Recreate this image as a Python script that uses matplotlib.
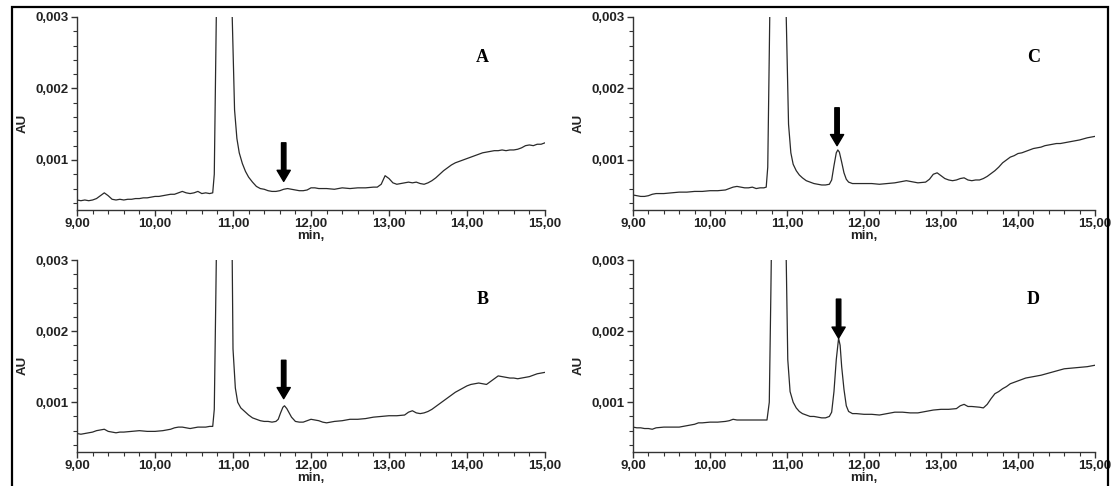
import matplotlib
matplotlib.use("Agg")
import matplotlib.pyplot as plt
from matplotlib.ticker import MultipleLocator, FuncFormatter
from matplotlib.patches import Rectangle

# ---------------- data (minutes, AU) ----------------
time_A = [9.00, 9.05, 9.10, 9.15, 9.20, 9.25, 9.30, 9.35, 9.40, 9.45, 9.50, 9.55, 9.60, 9.65, 9.70,
          9.75, 9.80, 9.85, 9.90, 9.95, 10.00, 10.05, 10.10, 10.15, 10.20, 10.25, 10.30, 10.35, 10.40,
          10.45, 10.50, 10.55, 10.60, 10.65, 10.70, 10.74, 10.76, 10.78, 10.80, 10.88, 10.97, 10.99,
          11.02, 11.05, 11.08, 11.12, 11.16, 11.20, 11.25, 11.30, 11.35, 11.40, 11.45, 11.50, 11.55,
          11.60, 11.65, 11.70, 11.75, 11.80, 11.85, 11.90, 11.95, 12.00, 12.05, 12.10, 12.20, 12.30,
          12.40, 12.50, 12.60, 12.70, 12.80, 12.85, 12.90, 12.95, 13.00, 13.05, 13.10, 13.15, 13.20,
          13.25, 13.30, 13.35, 13.40, 13.45, 13.50, 13.55, 13.60, 13.65, 13.70, 13.75, 13.80, 13.85,
          13.90, 13.95, 14.00, 14.05, 14.10, 14.15, 14.20, 14.25, 14.30, 14.35, 14.40, 14.45, 14.50,
          14.55, 14.60, 14.65, 14.70, 14.75, 14.80, 14.85, 14.90, 14.95, 15.00]
au_A = [0.00044, 0.00043, 0.00044, 0.00043, 0.00044, 0.00046, 0.00050, 0.00054, 0.00050, 0.00045,
        0.00044, 0.00045, 0.00044, 0.00045, 0.00045, 0.00046, 0.00046, 0.00047, 0.00047, 0.00048,
        0.00049, 0.00049, 0.00050, 0.00051, 0.00052, 0.00052, 0.00054, 0.00056, 0.00054, 0.00053,
        0.00054, 0.00056, 0.00053, 0.00054, 0.00053, 0.00054, 0.00080, 0.00250, 0.00420, 0.01500,
        0.00420, 0.00300, 0.00170, 0.00130, 0.00110, 0.00095, 0.00084, 0.00076, 0.00069, 0.00063,
        0.00060, 0.00059, 0.00057, 0.00056, 0.00056, 0.00057, 0.00059, 0.00060, 0.00059, 0.00058,
        0.00057, 0.00057, 0.00058, 0.00061, 0.00061, 0.00060, 0.00060, 0.00059, 0.00061, 0.00060,
        0.00061, 0.00061, 0.00062, 0.00062, 0.00066, 0.00078, 0.00074, 0.00068, 0.00066, 0.00067,
        0.00068, 0.00069, 0.00068, 0.00069, 0.00067, 0.00066, 0.00068, 0.00071, 0.00075, 0.00080,
        0.00085, 0.00089, 0.00093, 0.00096, 0.00098, 0.00100, 0.00102, 0.00104, 0.00106, 0.00108,
        0.00110, 0.00111, 0.00112, 0.00113, 0.00113, 0.00114, 0.00113, 0.00114, 0.00114, 0.00115,
        0.00117, 0.00120, 0.00121, 0.00120, 0.00122, 0.00122, 0.00124]

time_B = [9.00, 9.05, 9.10, 9.15, 9.20, 9.25, 9.30, 9.35, 9.40, 9.45, 9.50, 9.55, 9.60, 9.70, 9.80,
          9.90, 10.00, 10.10, 10.20, 10.25, 10.30, 10.35, 10.40, 10.45, 10.50, 10.55, 10.60, 10.65,
          10.70, 10.74, 10.76, 10.78, 10.80, 10.88, 10.97, 10.99, 11.00, 11.03, 11.06, 11.10, 11.15,
          11.20, 11.25, 11.30, 11.35, 11.40, 11.45, 11.50, 11.55, 11.58, 11.61, 11.64, 11.66, 11.69,
          11.72, 11.75, 11.80, 11.85, 11.90, 11.95, 12.00, 12.05, 12.10, 12.15, 12.20, 12.30, 12.40,
          12.50, 12.60, 12.70, 12.80, 12.90, 13.00, 13.10, 13.20, 13.25, 13.30, 13.35, 13.40, 13.45,
          13.50, 13.55, 13.60, 13.65, 13.70, 13.75, 13.80, 13.85, 13.90, 13.95, 14.00, 14.05, 14.10,
          14.15, 14.20, 14.25, 14.30, 14.35, 14.40, 14.45, 14.50, 14.55, 14.60, 14.65, 14.70, 14.75,
          14.80, 14.85, 14.90, 14.95, 15.00]
au_B = [0.00056, 0.00055, 0.00056, 0.00057, 0.00058, 0.00060, 0.00061, 0.00062, 0.00059, 0.00058,
        0.00057, 0.00058, 0.00058, 0.00059, 0.00060, 0.00059, 0.00059, 0.00060, 0.00062, 0.00064,
        0.00065, 0.00065, 0.00064, 0.00063, 0.00064, 0.00065, 0.00065, 0.00065, 0.00066, 0.00066,
        0.00090, 0.00250, 0.00420, 0.01500, 0.00420, 0.00300, 0.00175, 0.00120, 0.00100, 0.00092,
        0.00087, 0.00082, 0.00078, 0.00076, 0.00074, 0.00073, 0.00073, 0.00072, 0.00073, 0.00076,
        0.00085, 0.00093, 0.00095, 0.00091, 0.00085, 0.00079, 0.00073, 0.00072, 0.00072, 0.00074,
        0.00076, 0.00075, 0.00074, 0.00072, 0.00071, 0.00073, 0.00074, 0.00076, 0.00076, 0.00077,
        0.00079, 0.00080, 0.00081, 0.00081, 0.00082, 0.00086, 0.00088, 0.00085, 0.00084, 0.00085,
        0.00087, 0.00090, 0.00094, 0.00098, 0.00102, 0.00106, 0.00110, 0.00114, 0.00117, 0.00120,
        0.00123, 0.00125, 0.00126, 0.00127, 0.00126, 0.00125, 0.00129, 0.00133, 0.00137, 0.00136,
        0.00135, 0.00134, 0.00134, 0.00133, 0.00134, 0.00135, 0.00136, 0.00138, 0.00140, 0.00141,
        0.00142]

time_C = [9.00, 9.05, 9.10, 9.15, 9.20, 9.25, 9.30, 9.40, 9.50, 9.60, 9.70, 9.80, 9.90, 10.00, 10.10,
          10.20, 10.25, 10.30, 10.35, 10.40, 10.45, 10.50, 10.55, 10.60, 10.65, 10.70, 10.73, 10.75,
          10.77, 10.79, 10.88, 10.97, 10.99, 11.02, 11.05, 11.08, 11.12, 11.16, 11.20, 11.25, 11.30,
          11.35, 11.40, 11.45, 11.50, 11.55, 11.58, 11.61, 11.64, 11.66, 11.68, 11.71, 11.74, 11.77,
          11.80, 11.85, 11.90, 12.00, 12.10, 12.20, 12.30, 12.40, 12.50, 12.55, 12.60, 12.70, 12.80,
          12.85, 12.90, 12.95, 13.00, 13.05, 13.10, 13.15, 13.20, 13.25, 13.30, 13.35, 13.40, 13.45,
          13.50, 13.55, 13.60, 13.65, 13.70, 13.75, 13.80, 13.85, 13.90, 13.95, 14.00, 14.05, 14.10,
          14.15, 14.20, 14.25, 14.30, 14.35, 14.40, 14.45, 14.50, 14.55, 14.60, 14.70, 14.80, 14.90,
          15.00]
au_C = [0.00051, 0.00050, 0.00049, 0.00049, 0.00050, 0.00052, 0.00053, 0.00053, 0.00054, 0.00055,
        0.00055, 0.00056, 0.00056, 0.00057, 0.00057, 0.00058, 0.00060, 0.00062, 0.00063, 0.00062,
        0.00061, 0.00061, 0.00062, 0.00060, 0.00061, 0.00061, 0.00062, 0.00090, 0.00250, 0.00420,
        0.01500, 0.00420, 0.00300, 0.00150, 0.00110, 0.00094, 0.00085, 0.00079, 0.00075, 0.00071,
        0.00069, 0.00067, 0.00066, 0.00065, 0.00065, 0.00066, 0.00072, 0.00092, 0.00110, 0.00114,
        0.00111, 0.00097, 0.00082, 0.00073, 0.00069, 0.00067, 0.00067, 0.00067, 0.00067, 0.00066,
        0.00067, 0.00068, 0.00070, 0.00071, 0.00070, 0.00068, 0.00069, 0.00073, 0.00080, 0.00082,
        0.00078, 0.00074, 0.00072, 0.00071, 0.00072, 0.00074, 0.00075, 0.00072, 0.00071, 0.00072,
        0.00072, 0.00074, 0.00077, 0.00081, 0.00085, 0.00090, 0.00096, 0.00100, 0.00104, 0.00106,
        0.00109, 0.00110, 0.00112, 0.00114, 0.00116, 0.00117, 0.00118, 0.00120, 0.00121, 0.00122,
        0.00123, 0.00123, 0.00124, 0.00126, 0.00128, 0.00131, 0.00133]

time_D = [9.00, 9.05, 9.10, 9.15, 9.20, 9.25, 9.30, 9.40, 9.50, 9.60, 9.70, 9.75, 9.80, 9.85, 9.90,
          10.00, 10.10, 10.20, 10.25, 10.30, 10.35, 10.40, 10.50, 10.60, 10.70, 10.74, 10.77, 10.79,
          10.81, 10.90, 10.97, 10.99, 11.01, 11.04, 11.08, 11.12, 11.16, 11.20, 11.25, 11.30, 11.35,
          11.40, 11.45, 11.50, 11.55, 11.58, 11.61, 11.64, 11.67, 11.69, 11.71, 11.74, 11.77, 11.80,
          11.85, 11.90, 12.00, 12.10, 12.20, 12.30, 12.40, 12.50, 12.60, 12.70, 12.80, 12.90, 13.00,
          13.10, 13.20, 13.25, 13.30, 13.35, 13.40, 13.50, 13.55, 13.60, 13.65, 13.70, 13.75, 13.80,
          13.85, 13.90, 13.95, 14.00, 14.10, 14.20, 14.30, 14.40, 14.50, 14.60, 14.70, 14.80, 14.90,
          15.00]
au_D = [0.00065, 0.00064, 0.00064, 0.00063, 0.00063, 0.00062, 0.00064, 0.00065, 0.00065, 0.00065,
        0.00067, 0.00068, 0.00069, 0.00071, 0.00071, 0.00072, 0.00072, 0.00073, 0.00074, 0.00076,
        0.00075, 0.00075, 0.00075, 0.00075, 0.00075, 0.00075, 0.00100, 0.00250, 0.00420, 0.01500,
        0.00420, 0.00300, 0.00160, 0.00115, 0.00100, 0.00092, 0.00087, 0.00084, 0.00082, 0.00080,
        0.00080, 0.00079, 0.00078, 0.00078, 0.00080, 0.00086, 0.00115, 0.00160, 0.00190, 0.00180,
        0.00150, 0.00118, 0.00095, 0.00087, 0.00084, 0.00084, 0.00083, 0.00083, 0.00082, 0.00084,
        0.00086, 0.00086, 0.00085, 0.00085, 0.00087, 0.00089, 0.00090, 0.00090, 0.00091, 0.00095,
        0.00097, 0.00094, 0.00094, 0.00093, 0.00092, 0.00097, 0.00105, 0.00112, 0.00115, 0.00119,
        0.00122, 0.00126, 0.00128, 0.00130, 0.00134, 0.00136, 0.00138, 0.00141, 0.00144, 0.00147,
        0.00148, 0.00149, 0.00150, 0.00152]

panel_labels = ["A", "B", "C", "D"]
arrow_time = [11.65, 11.65, 11.65, 11.67]
arrow_tail = [0.00124, 0.00159, 0.00173, 0.00245]
arrow_tip = [0.00070, 0.00105, 0.00120, 0.00190]

x_lim = (9.0, 15.0)
y_lim = (0.0003, 0.003)

# ---------------- figure ----------------
W, H = 1115, 486
fig = plt.figure(figsize=(W / 100, H / 100), dpi=100)

TICK_FAMILY = ["Liberation Sans", "DejaVu Sans"]
TICK_SIZE = 9.5
tick_font = dict(family=TICK_FAMILY, weight="bold", size=TICK_SIZE)


def px_axes(left, right, top, bottom):
    return fig.add_axes([left / W, 1 - bottom / H, (right - left) / W, (bottom - top) / H])


boxes = {
    "A": (77, 545, 17, 210),
    "B": (77, 545, 260, 452),
    "C": (633, 1095, 17, 210),
    "D": (633, 1095, 260, 452),
}
series = {"A": (time_A, au_A), "B": (time_B, au_B), "C": (time_C, au_C), "D": (time_D, au_D)}

xfmt = FuncFormatter(lambda v, p: f"{v:.2f}".replace(".", ","))
yfmt = FuncFormatter(lambda v, p: f"{v:.3f}".replace(".", ","))

for i, key in enumerate(panel_labels):
    ax = px_axes(*boxes[key])
    t, a = series[key]
    ax.plot(t, a, color="#2a2a2a", lw=0.9)
    ax.set_xlim(*x_lim)
    ax.set_ylim(*y_lim)
    for s in ("top", "right"):
        ax.spines[s].set_visible(False)
    for s in ("left", "bottom"):
        ax.spines[s].set_color("#333333")
        ax.spines[s].set_linewidth(1.0)
    ax.xaxis.set_major_locator(MultipleLocator(1.0))
    ax.xaxis.set_minor_locator(MultipleLocator(0.2))
    ax.yaxis.set_major_locator(MultipleLocator(0.001))
    ax.yaxis.set_minor_locator(MultipleLocator(0.0002))
    ax.xaxis.set_major_formatter(xfmt)
    ax.yaxis.set_major_formatter(yfmt)
    ax.tick_params(which="major", direction="out", length=4, width=1, color="#333333", pad=2)
    ax.tick_params(which="minor", direction="out", length=3, width=0.8, color="#333333")
    for lab in ax.get_xticklabels() + ax.get_yticklabels():
        lab.set_fontfamily(TICK_FAMILY)
        lab.set_fontweight("bold")
        lab.set_fontsize(TICK_SIZE)
        lab.set_color("#222222")
    ax.set_xlabel("min,", fontdict=tick_font, labelpad=-0.5, color="#222222")
    ax.set_ylabel("AU", fontdict=tick_font, color="#222222")
    ax.yaxis.set_label_coords(-0.104, 0.45)
    ax.text(14.2, 0.00244, key, fontsize=13, fontweight="bold",
            family=["Liberation Serif", "DejaVu Serif"], ha="center", va="center")
    ax.annotate("", xy=(arrow_time[i], arrow_tip[i]), xytext=(arrow_time[i], arrow_tail[i]),
                arrowprops=dict(width=3.2, headwidth=9.5, headlength=8, shrink=0,
                                facecolor="black", edgecolor="black"))

fig.patches.append(Rectangle((12 / W, -0.05), (1108 - 12) / W, 1 - 7 / H + 0.05,
                             transform=fig.transFigure, fill=False, edgecolor="black",
                             linewidth=1.6, clip_on=False))

fig.savefig("out.png", dpi=100)
